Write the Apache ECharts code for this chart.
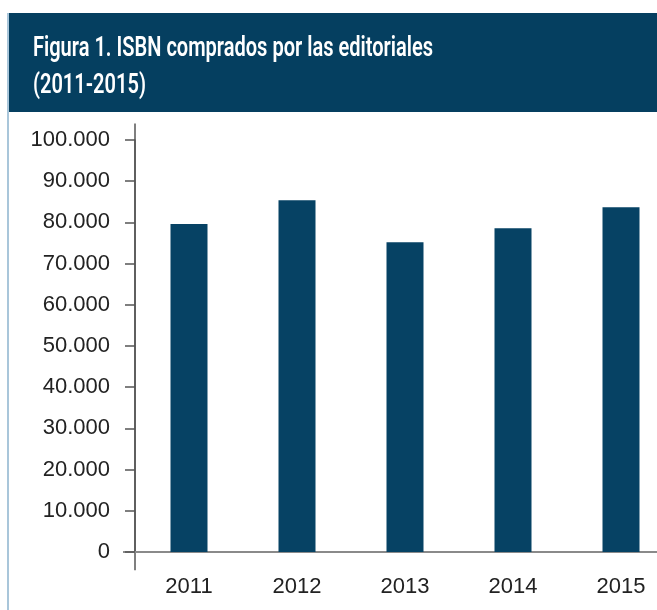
<!DOCTYPE html>
<html>
<head>
<meta charset="utf-8">
<script src="https://cdn.jsdelivr.net/npm/echarts@6/dist/echarts.min.js"></script>
<style>
html,body{margin:0;padding:0;background:#fff;}
#chart{width:657px;height:610px;}
</style>
</head>
<body>
<div id="chart"></div>
<script>
const titleLines = ["Figura 1. ISBN comprados por las editoriales", "(2011-2015)"];
const years = ["2011", "2012", "2013", "2014", "2015"];
const isbn = [79600, 85400, 75200, 78600, 83700];
const yTicks = [0, 10000, 20000, 30000, 40000, 50000, 60000, 70000, 80000, 90000, 100000];

const chart = echarts.init(document.getElementById('chart'), null, {renderer: 'canvas'});
const fmt = v => v === 0 ? '0' : v.toLocaleString('de-DE');

// condensed-looking title: measure and squeeze horizontally
const titleFont = '600 27px Roboto, "Noto Sans", sans-serif';
const ctx = document.createElement('canvas').getContext('2d');
ctx.font = titleFont;
const titleScale = 400 / ctx.measureText(titleLines[0]).width;

chart.setOption({
  animation: false,
  backgroundColor: '#ffffff',
  grid: {left: 135, top: 140, width: 540, bottom: 58, containLabel: false, outerBoundsMode: 'none'},
  xAxis: {
    type: 'category', data: years,
    axisLine: {show: true, lineStyle: {color: '#8a8a8a', width: 2}},
    axisTick: {show: false},
    axisLabel: {color: '#222', fontSize: 22, fontFamily: '"Liberation Sans", sans-serif', margin: 24}
  },
  yAxis: {
    type: 'value', min: yTicks[0], max: yTicks[yTicks.length - 1], interval: 10000,
    axisLine: {show: true, lineStyle: {color: '#555', width: 1.5}},
    axisTick: {show: true, length: 10, lineStyle: {color: '#555', width: 1.5}},
    splitLine: {show: false},
    axisLabel: {color: '#222', fontSize: 22, fontFamily: '"Liberation Sans", sans-serif', margin: 25, formatter: fmt}
  },
  series: [{
    type: 'bar', data: isbn, barWidth: 37,
    itemStyle: {color: '#064264'}
  }]
});

// axis line extensions (beyond the value range), positioned through the axes
const pTop = chart.convertToPixel({gridIndex: 0}, [0, 104000]);
const pBot = chart.convertToPixel({gridIndex: 0}, [0, -4400]);
const p0 = chart.convertToPixel({gridIndex: 0}, [0, 0]);
const axisX = chart.getModel().getComponent('grid', 0).coordinateSystem.getRect().x;
chart.setOption({
  graphic: [
    {type: 'rect', z: -1, shape: {x: 7, y: 13, width: 660, height: 99}, style: {fill: '#053f60'}},
    {type: 'line', shape: {x1: 8, y1: 13, x2: 8, y2: 610}, style: {stroke: '#a9c6da', lineWidth: 2}},
    {type: 'text', x: 33, y: 49, scaleX: titleScale, style: {text: titleLines[0], font: titleFont, fill: '#ffffff', verticalAlign: 'middle'}},
    {type: 'text', x: 33, y: 86, scaleX: titleScale, style: {text: titleLines[1], font: titleFont, fill: '#ffffff', verticalAlign: 'middle'}},
    {type: 'line', shape: {x1: axisX, y1: pTop[1], x2: axisX, y2: pBot[1]}, style: {stroke: '#555', lineWidth: 1.5}},
    {type: 'line', shape: {x1: axisX - 12, y1: p0[1], x2: axisX, y2: p0[1]}, style: {stroke: '#8a8a8a', lineWidth: 2}}
  ]
});
</script>
</body>
</html>
